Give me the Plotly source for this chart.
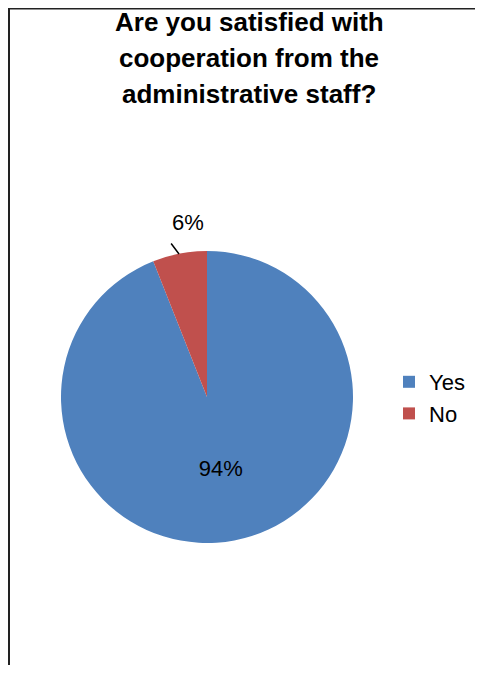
import plotly.graph_objects as go

labels = ["Yes", "No"]
values = [94, 6]
colors = ["#4F81BD", "#C0504D"]
title_lines = ["Are you satisfied with", "cooperation from the", "administrative staff?"]

# page body has an 8px margin, so the figure is sized to fit inside the window
W, H = 467, 657

fig = go.Figure()
fig.add_trace(go.Pie(
    labels=labels,
    values=values,
    marker=dict(colors=colors, line=dict(width=0)),
    sort=False,
    direction="clockwise",
    rotation=0,
    texttemplate=["%{value}%", ""],
    textposition=["inside", "none"],
    textfont=dict(family="Liberation Sans", size=22, color="#000000"),
    insidetextorientation="horizontal",
    domain=dict(x=[53 / W, 345 / W], y=[1 - 535 / H, 1 - 243 / H]),
    hoverinfo="skip",
))

annotations = []
for i, line in enumerate(title_lines):
    annotations.append(dict(
        text="<b>" + line + "</b>", xref="paper", yref="paper",
        x=241 / W, y=1 - (14 + 36 * i) / H, xanchor="center", yanchor="middle",
        showarrow=False,
        font=dict(family="Liberation Sans", size=26, color="#000000"),
    ))

# outside label for the small slice
annotations.append(dict(
    text=f"{values[1]}%", xref="paper", yref="paper",
    x=180 / W, y=1 - 215 / H, xanchor="center", yanchor="middle",
    showarrow=False,
    font=dict(family="Liberation Sans", size=22, color="#000000"),
))
# its leader line
annotations.append(dict(
    text="", xref="paper", yref="paper",
    x=171 / W, y=1 - 246 / H, ax=-9, ay=-12,
    showarrow=True, arrowhead=0, arrowwidth=1.5, arrowcolor="#000000",
    standoff=0, startstandoff=0,
))

fig.update_layout(
    width=W, height=H,
    margin=dict(l=0, r=0, t=0, b=0),
    paper_bgcolor="white",
    plot_bgcolor="white",
    annotations=annotations,
    legend=dict(
        x=381 / W, xanchor="left",
        y=1 - 390 / H, yanchor="middle",
        font=dict(family="Liberation Sans", size=22, color="#000000"),
        itemwidth=30,
    ),
    shapes=[
        dict(type="line", xref="paper", yref="paper",
             x0=1 / W, x1=1 / W, y0=0, y1=1,
             line=dict(color="#222222", width=2)),
        dict(type="line", xref="paper", yref="paper",
             x0=0, x1=1, y0=1 - 0.5 / H, y1=1 - 0.5 / H,
             line=dict(color="#222222", width=2)),
    ],
)

fig.write_html("out.html")
